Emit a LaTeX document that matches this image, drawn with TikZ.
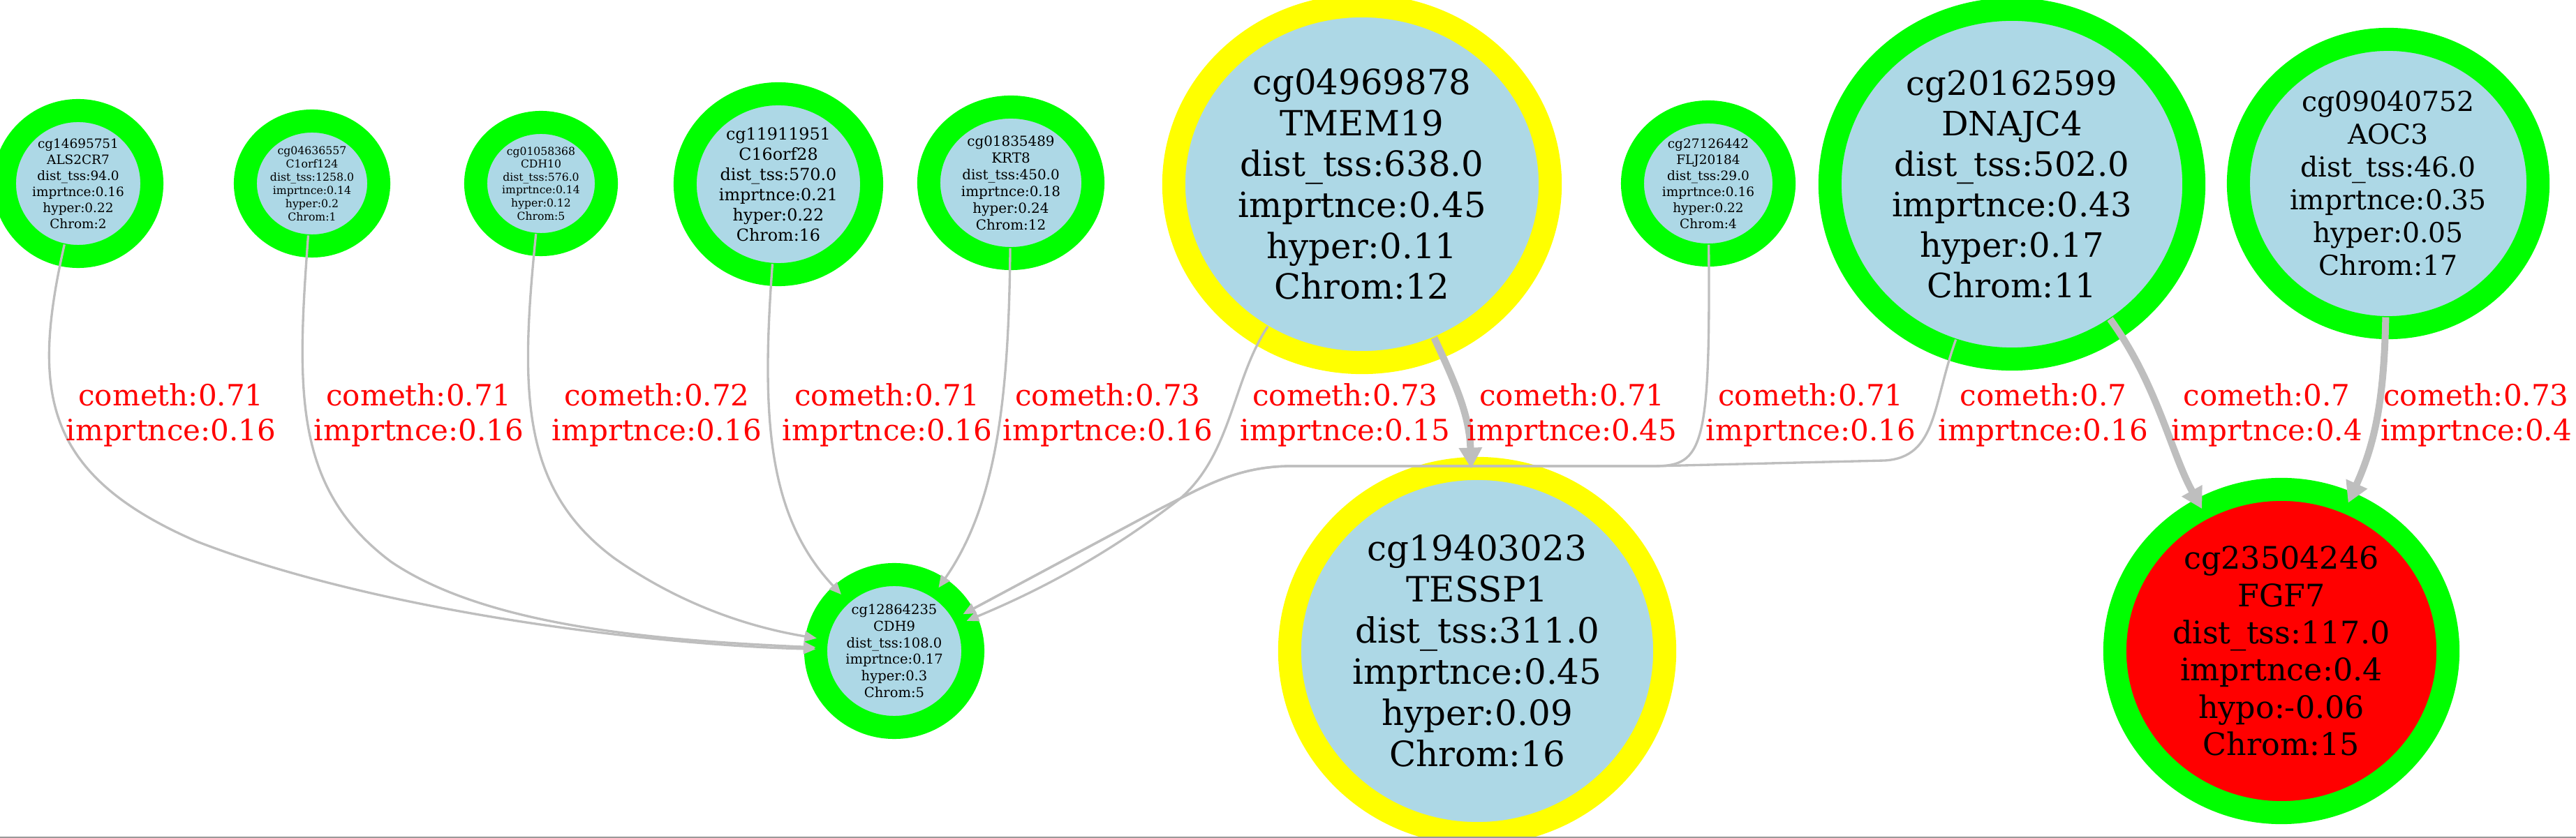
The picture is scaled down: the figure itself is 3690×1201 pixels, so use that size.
\documentclass[tikz,border=0pt]{standalone}
\usepackage{fontspec}
\setmainfont{DejaVu Serif}
\usetikzlibrary{shapes.geometric,arrows.meta}
\definecolor{ringgreen}{HTML}{00FF00}
\definecolor{ringyellow}{HTML}{FFFF00}
\definecolor{cpgblue}{HTML}{ADD8E6}
\definecolor{cpgred}{HTML}{FF0000}
\definecolor{linkgray}{HTML}{BEBEBE}
\def\edgefont{\fontsize{11.95}{14.2}\selectfont}
\def\bus{(2370,668) -- (1850,668) .. controls (1770,668) and (1720,700) .. (1660,730)}

\begin{document}
\begin{tikzpicture}[x=0.01cm, y=-0.01cm,
  cpg/.style 2 args={ellipse, fill=#1, draw=#2, line width=3.3mm, inner sep=0pt, outer sep=0pt, align=center},
  txt/.style 2 args={font=\fontsize{#1}{#2}\selectfont},
  link/.style={draw=linkgray, line width=0.95pt, shorten <=-1.5mm, -{Triangle[length=5pt,width=4.2pt]}},
  heavy/.style={draw=linkgray, line width=2.85pt, shorten <=-1.5mm, -{Triangle[length=8.5pt,width=9pt]}},
  cometh/.style={text=red, align=center, font=\edgefont}]
\useasboundingbox (0,0) rectangle (3690,1201);

\begin{scope}[every node/.append style={cpg={cpgblue}{ringgreen}}]
  \node[txt={5.24}{6.54}, minimum width=2.11cm, minimum height=2.09cm] (als2cr7) at (112,263)
    {cg14695751\\ALS2CR7\\dist\_tss:94.0\\imprtnce:0.16\\hyper:0.22\\Chrom:2};
  \node[txt={4.47}{5.4}, minimum width=1.91cm, minimum height=1.79cm] (c1orf124) at (447,263)
    {cg04636557\\C1orf124\\dist\_tss:1258.0\\imprtnce:0.14\\hyper:0.2\\Chrom:1};
  \node[txt={4.44}{5.3}, minimum width=1.87cm, minimum height=1.75cm] (cdh10) at (775,263)
    {cg01058368\\CDH10\\dist\_tss:576.0\\imprtnce:0.14\\hyper:0.12\\Chrom:5};
  \node[txt={6.77}{8.25}, minimum width=2.67cm, minimum height=2.59cm] (c16orf28) at (1115,264)
    {cg11911951\\C16orf28\\dist\_tss:570.0\\imprtnce:0.21\\hyper:0.22\\Chrom:16};
  \node[txt={5.66}{6.8}, minimum width=2.35cm, minimum height=2.17cm] (krt8) at (1448,262)
    {cg01835489\\KRT8\\dist\_tss:450.0\\imprtnce:0.18\\hyper:0.24\\Chrom:12};
  \node[txt={5.26}{6.54}, minimum width=2.17cm, minimum height=2.05cm] (flj20184) at (2447,263)
    {cg27126442\\FLJ20184\\dist\_tss:29.0\\imprtnce:0.16\\hyper:0.22\\Chrom:4};
  \node[txt={13.66}{16.5}, minimum width=5.21cm, minimum height=5.01cm] (dnajc4) at (2882,264)
    {cg20162599\\DNAJC4\\dist\_tss:502.0\\imprtnce:0.43\\hyper:0.17\\Chrom:11};
  \node[txt={11.2}{13.37}, minimum width=4.29cm, minimum height=4.13cm] (aoc3) at (3421,263)
    {cg09040752\\AOC3\\dist\_tss:46.0\\imprtnce:0.35\\hyper:0.05\\Chrom:17};
  \node[txt={5.55}{6.74}, minimum width=2.25cm, minimum height=2.19cm] (cdh9) at (1281,933)
    {cg12864235\\CDH9\\dist\_tss:108.0\\imprtnce:0.17\\hyper:0.3\\Chrom:5};
\end{scope}
\node[cpg={cpgblue}{ringyellow}, txt={14.14}{16.67}, minimum width=5.39cm, minimum height=5.11cm] (tmem19) at (1951,264)
  {cg04969878\\TMEM19\\dist\_tss:638.0\\imprtnce:0.45\\hyper:0.11\\Chrom:12};
\node[cpg={cpgblue}{ringyellow}, txt={14.2}{16.8}, minimum width=5.37cm, minimum height=5.23cm] (tessp1) at (2116,933)
  {cg19403023\\TESSP1\\dist\_tss:311.0\\imprtnce:0.45\\hyper:0.09\\Chrom:16};
\node[cpg={cpgred}{ringgreen}, txt={12.63}{15.17}, minimum width=4.77cm, minimum height=4.63cm] (fgf7) at (3268,933)
  {cg23504246\\FGF7\\dist\_tss:117.0\\imprtnce:0.4\\hypo:-0.06\\Chrom:15};

\draw[link] (als2cr7) .. controls (45,560) and (60,680) .. (282,776) .. controls (550,880) and (950,925) .. (cdh9);
\draw[link] (c1orf124) .. controls (425,560) and (420,700) .. (560,805) .. controls (700,900) and (950,918) .. (cdh9);
\draw[link] (cdh10) .. controls (745,560) and (745,700) .. (880,800) .. controls (980,870) and (1080,900) .. (cdh9);
\draw[link] (c16orf28) .. controls (1090,600) and (1100,740) .. (cdh9);
\draw[link] (krt8) .. controls (1445,560) and (1430,720) .. (cdh9);
\draw[link] (tmem19) .. controls (1765,545) and (1765,650) .. (1690,715) .. controls (1580,800) and (1480,850) .. (cdh9);
\draw[heavy] (tmem19) .. controls (2090,560) and (2105,600) .. (tessp1);
\draw[link] (flj20184) .. controls (2450,640) and (2440,668) .. \bus -- (cdh9);
\draw[link] (dnajc4) .. controls (2768,580) and (2775,655) .. (2700,660) -- \bus -- (cdh9);
\draw[heavy] (dnajc4) .. controls (3090,550) and (3110,650) .. (fgf7);
\draw[heavy] (aoc3) .. controls (3415,580) and (3400,640) .. (fgf7);

\node[cometh] (l-als2cr7) at (245,595) {cometh:0.71\\imprtnce:0.16};
\node[cometh] (l-c1orf124) at (600,595) {cometh:0.71\\imprtnce:0.16};
\node[cometh] (l-cdh10) at (941,595) {cometh:0.72\\imprtnce:0.16};
\node[cometh] (l-c16orf28) at (1271,595) {cometh:0.71\\imprtnce:0.16};
\node[cometh] (l-krt8) at (1587,595) {cometh:0.73\\imprtnce:0.16};
\node[cometh] (l-tmem19) at (1927,595) {cometh:0.73\\imprtnce:0.15};
\node[cometh] (l-tessp1) at (2252,595) {cometh:0.71\\imprtnce:0.45};
\node[cometh] (l-flj20184) at (2594,595) {cometh:0.71\\imprtnce:0.16};
\node[cometh] (l-dnajc4) at (2927,595) {cometh:0.7\\imprtnce:0.16};
\node[cometh] (l-fgf7) at (3247,595) {cometh:0.7\\imprtnce:0.4};
\node[cometh] (l-aoc3) at (3547,595) {cometh:0.73\\imprtnce:0.4};

\draw[gray!80, line width=0.6pt] (0,1200) -- (3690,1200);
\end{tikzpicture}
\end{document}
